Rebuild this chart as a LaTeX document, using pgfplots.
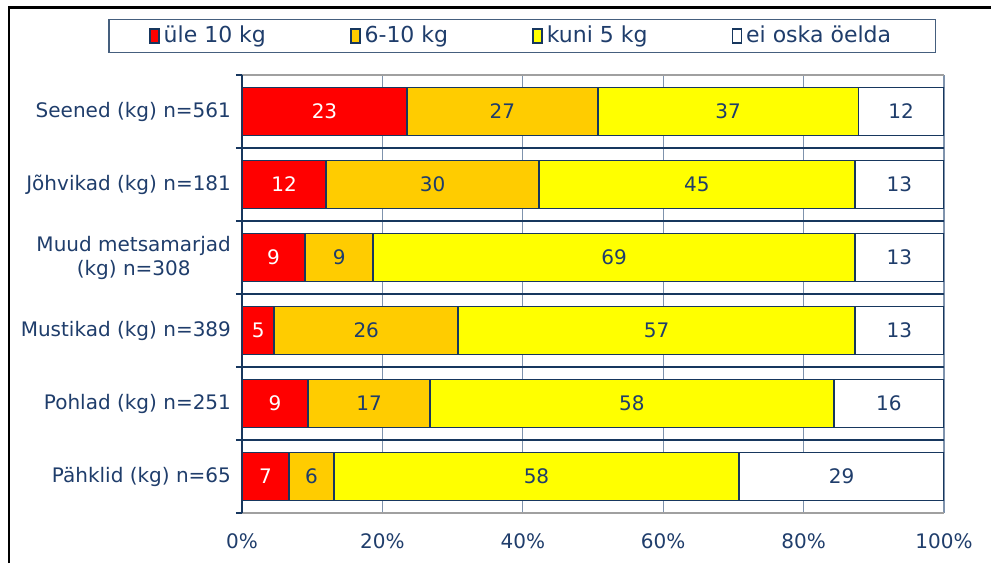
\documentclass[border=0pt]{standalone}
\usepackage{pgfplots}
\pgfplotsset{compat=1.18}
\usepackage{fontspec}
\setmainfont{DejaVu Sans}
\definecolor{cRed}{HTML}{FF0000}
\definecolor{cOrange}{HTML}{FFCC00}
\definecolor{cYellow}{HTML}{FFFF00}
\definecolor{cNavy}{HTML}{17375E}
\definecolor{cText}{HTML}{1F3D6B}
\definecolor{cGridV}{HTML}{7F93AD}
\definecolor{cBorder}{HTML}{A0A0A0}

\begin{document}
\begin{tikzpicture}
\useasboundingbox (-121pt,-25pt) rectangle (374.5pt,256.5pt);
% outer frame (left and top only, as in the original)
\draw[line width=1.3pt] (-116.5pt,-25pt) -- (-116.5pt,252.75pt) -- (374.5pt,252.75pt);
\begin{axis}[
    at={(0,0)}, anchor=south west,
    scale only axis,
    width=351pt, height=219pt,
    xbar stacked,
    bar width=24pt,
    xmin=0, xmax=100,
    ymin=-0.5, ymax=5.5,
    font=\fontsize{10}{12}\selectfont,
    xtick={0,20,40,60,80,100},
    xticklabels={0\%,20\%,40\%,60\%,80\%,100\%},
    xticklabel style={text=cText, yshift=-7pt},
    xmajorgrids,
    major x grid style={cGridV, line width=0.6pt},
    ytick={0,1,2,3,4,5},
    yticklabels={{Pähklid (kg) n=65},{Pohlad (kg) n=251},{Mustikad (kg) n=389},{Muud metsamarjad\\(kg) n=308},{Jõhvikad (kg) n=181},{Seened (kg) n=561}},
    yticklabel style={text=cText, align=center, xshift=-2pt},
    minor ytick={0.5,1.5,2.5,3.5,4.5},
    yminorgrids,
    minor y grid style={cNavy, line width=0.6pt},
    extra y ticks={-0.5,5.5},
    extra y tick labels={},
    extra y tick style={grid=none, major tick length=3pt, tick style={cNavy, line width=0.6pt}},
    major tick length=0pt,
    minor tick length=3pt,
    tick align=outside,
    xtick pos=bottom, ytick pos=left,
    minor tick style={cNavy, line width=0.6pt},
    separate axis lines,
    x axis line style={cBorder, line width=0.8pt},
    axis y line*=left,
    y axis line style={cNavy, line width=0.8pt, -},
    point meta=explicit symbolic,
    nodes near coords,
    every node near coord/.append style={font=\fontsize{10}{12}\selectfont},
    legend columns=4,
    legend style={at={(0.399,1.089)}, anchor=center, draw=cNavy!80, line width=0.6pt,
        text=cText, inner xsep=20pt, inner ysep=1.5pt,
        /tikz/every even column/.append style={column sep=40pt},
        font=\fontsize{11}{13}\selectfont},
    legend cell align=left,
    legend image code/.code={\draw[#1, draw=cNavy, line width=0.8pt] (0pt,-3.5pt) rectangle (4.5pt,3.5pt);},
]
\addplot[fill=cRed, draw=cNavy, line width=0.8pt, nodes near coords style={text=white}]
    coordinates {(23.5,5) [23] (12.0,4) [12] (9.0,3) [9] (4.6,2) [5] (9.4,1) [9] (6.7,0) [7]};
\addplot[fill=cOrange, draw=cNavy, line width=0.8pt, nodes near coords style={text=cText}]
    coordinates {(27.2,5) [27] (30.3,4) [30] (9.7,3) [9] (26.2,2) [26] (17.4,1) [17] (6.4,0) [6]};
\addplot[fill=cYellow, draw=cNavy, line width=0.8pt, nodes near coords style={text=cText}]
    coordinates {(37.1,5) [37] (45.0,4) [45] (68.6,3) [69] (56.5,2) [57] (57.5,1) [58] (57.7,0) [58]};
\addplot[fill=white, draw=cNavy, line width=0.8pt, nodes near coords style={text=cText}]
    coordinates {(12.2,5) [12] (12.7,4) [13] (12.7,3) [13] (12.7,2) [13] (15.7,1) [16] (29.2,0) [29]};
\legend{üle 10 kg, 6-10 kg, kuni 5 kg, ei oska öelda}
\end{axis}
\end{tikzpicture}
\end{document}
